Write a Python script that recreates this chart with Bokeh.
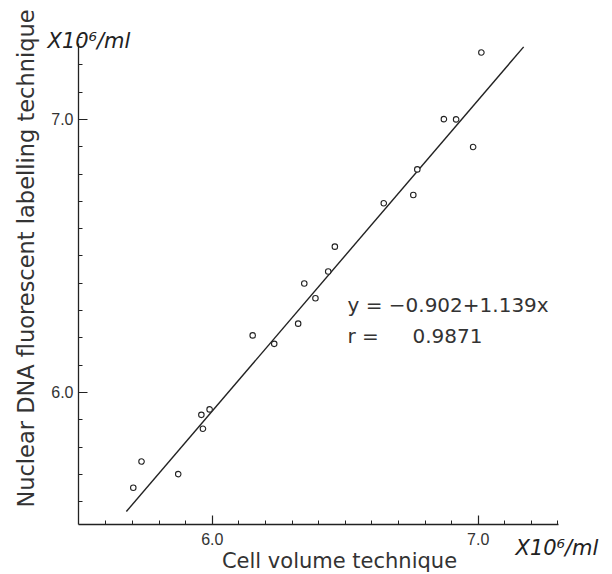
import numpy as np
from bokeh.plotting import figure
from bokeh.models import FixedTicker, Label, ColumnDataSource
from bokeh.embed import file_html
from bokeh.resources import INLINE

# ---- data ----
cell_volume = [7.012, 6.871, 6.917, 6.981, 6.771, 6.756, 6.645, 6.461, 6.436, 6.346,
               6.388, 6.323, 6.152, 6.233, 5.990, 5.959, 5.965, 5.734, 5.703, 5.872]
dna_labelling = [7.245, 7.001, 7.000, 6.899, 6.817, 6.723, 6.693, 6.534, 6.443, 6.399,
                 6.345, 6.252, 6.209, 6.178, 5.938, 5.918, 5.867, 5.747, 5.651, 5.701]
intercept = -0.902
slope = 1.139
fit_x = [5.677, 7.171]
major_ticks = [6.0, 7.0]
tick_labels = ["6.0", "7.0"]
x_title = "Cell volume technique"
y_title = "Nuclear DNA fluorescent labelling technique"
unit_text = "X10\u2076/ml"
eq_text = "y = \u22120.902+1.139x"
r_label = "r ="
r_text = "0.9871"

W, H = 612, 574
# axis box in pixels and its data extent
FL, FR, FT, FB = 78, 558, 43, 524
x0, x1 = 5.497, 7.302
y0, y1 = 5.5165, 7.278
sx = (x1 - x0) / (FR - FL)
sy = (y1 - y0) / (FB - FT)
xs, xe = x0 - FL * sx, x1 + (W - FR) * sx
ys, ye = y0 - (H - FB) * sy, y1 + FT * sy

def px_x(px):
    return xs + px * sx

def px_y(py):
    return ye - py * sy

p = figure(width=W, height=H, x_range=(xs, xe), y_range=(ys, ye),
           output_backend="svg", toolbar_location=None,
           min_border_left=0, min_border_right=0,
           min_border_top=0, min_border_bottom=0)
p.outline_line_color = None
p.xgrid.visible = False
p.ygrid.visible = False
p.background_fill_color = "white"
p.border_fill_color = "white"

p.xaxis.fixed_location = y0
p.xaxis.bounds = (x0, x1)
p.yaxis.fixed_location = x0
p.yaxis.bounds = (y0, y1)

minor = [round(v, 1) for v in np.arange(5.6, 7.35, 0.1)]
for ax in (p.xaxis[0], p.yaxis[0]):
    ax.ticker = FixedTicker(ticks=major_ticks, minor_ticks=minor)
    ax.major_label_overrides = dict(zip(major_ticks, tick_labels))
    ax.major_tick_in = 9
    ax.major_tick_out = 0
    ax.minor_tick_in = 4
    ax.minor_tick_out = 0
    ax.axis_line_color = "#222222"
    ax.axis_line_width = 1.3
    ax.major_tick_line_color = "#222222"
    ax.minor_tick_line_color = "#222222"
    ax.major_tick_line_width = 1.2
    ax.minor_tick_line_width = 1
    ax.major_label_text_font = "Liberation Sans"
    ax.major_label_text_font_size = "16px"
    ax.major_label_text_color = "#333333"
p.xaxis.major_label_standoff = 8
p.yaxis.major_label_standoff = 5

# regression line
fit_y = [intercept + slope * v for v in fit_x]
p.line(fit_x, fit_y, line_color="#222222", line_width=1.4)

src = ColumnDataSource(dict(x=cell_volume, y=dna_labelling))
p.scatter("x", "y", source=src, marker="circle", size=5.5,
          fill_color="white", line_color="#222222", line_width=1.1)

font = "DejaVu Sans"
col = "#333333"
# axis titles
p.add_layout(Label(x=px_x(339), y=px_y(560), text=x_title, text_font=font,
                   text_font_size="21px", text_color=col,
                   text_align="center", text_baseline="alphabetic"))
p.add_layout(Label(x=px_x(25), y=px_y(258), text=y_title, text_font=font,
                   text_font_size="22.5px", text_color=col, angle=np.pi / 2,
                   text_align="center", text_baseline="middle"))
# units
p.add_layout(Label(x=px_x(47), y=px_y(40), text=unit_text, text_font=font,
                   text_font_style="italic", text_font_size="21px", text_color="#222222",
                   text_align="left", text_baseline="alphabetic"))
p.add_layout(Label(x=px_x(515), y=px_y(547), text=unit_text, text_font=font,
                   text_font_style="italic", text_font_size="21px", text_color="#222222",
                   text_align="left", text_baseline="alphabetic"))
# equation
p.add_layout(Label(x=px_x(347), y=px_y(304), text=eq_text, text_font=font,
                   text_font_size="20px", text_color=col,
                   text_align="left", text_baseline="alphabetic"))
p.add_layout(Label(x=px_x(347), y=px_y(335), text=r_label, text_font=font,
                   text_font_size="20px", text_color=col,
                   text_align="left", text_baseline="alphabetic"))
p.add_layout(Label(x=px_x(412), y=px_y(335), text=r_text, text_font=font,
                   text_font_size="20px", text_color=col,
                   text_align="left", text_baseline="alphabetic"))

open("out.html", "w").write(file_html(p, INLINE))
